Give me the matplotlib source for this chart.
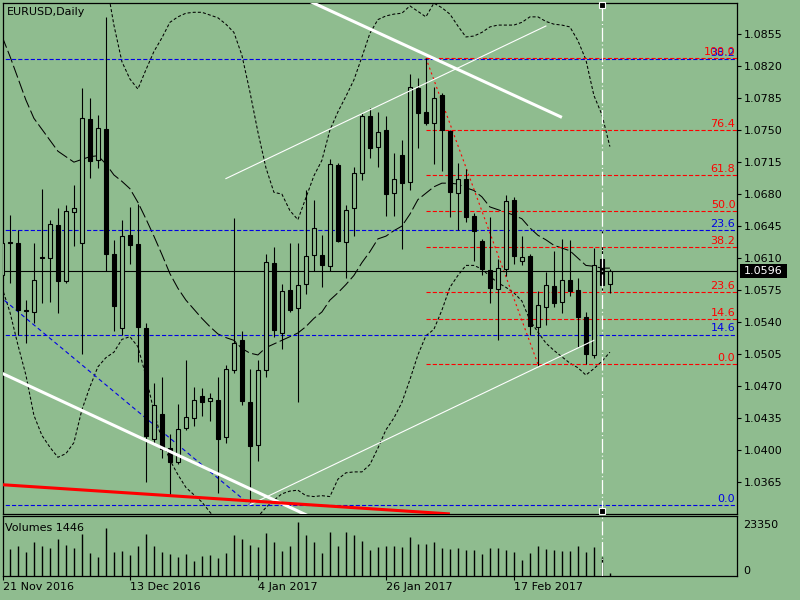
import matplotlib
matplotlib.use('Agg')
import matplotlib.pyplot as plt
import matplotlib.transforms as mtransforms
from matplotlib.patches import Rectangle
import numpy as np
import pandas as pd

plt.rcParams['font.family'] = ['DejaVu Sans']
plt.rcParams['font.size'] = 8
plt.rcParams['lines.scale_dashes'] = False

BG = '#8FBC8F'

# Step 1: values (EURUSD daily, 21 Nov 2016 - 7 Mar 2017)
first_day = '2016-11-21'
dates = pd.bdate_range(first_day, '2017-03-07')

opens = [1.0592, 1.0628, 1.0627, 1.0553, 1.0551, 1.0611, 1.0610, 1.0646, 1.0585, 1.0660,
         1.0627, 1.0762, 1.0717, 1.0751, 1.0615, 1.0533, 1.0635, 1.0625, 1.0534, 1.0412,
         1.0439, 1.0402, 1.0387, 1.0424, 1.0435, 1.0459, 1.0454, 1.0455, 1.0414, 1.0488,
         1.0520, 1.0453, 1.0405, 1.0488, 1.0605, 1.0528, 1.0575, 1.0555, 1.0582, 1.0613,
         1.0613, 1.0601, 1.0712, 1.0628, 1.0665, 1.0703, 1.0765, 1.0732, 1.0750, 1.0681,
         1.0723, 1.0693, 1.0796, 1.0770, 1.0758, 1.0789, 1.0749, 1.0681, 1.0697, 1.0656,
         1.0629, 1.0597, 1.0576, 1.0598, 1.0674, 1.0607, 1.0612, 1.0535, 1.0557, 1.0580,
         1.0562, 1.0586, 1.0575, 1.0545, 1.0504, 1.0609, 1.0582]
highs = [1.0662, 1.0657, 1.0641, 1.0564, 1.0626, 1.0686, 1.0652, 1.0665, 1.0668, 1.0690,
         1.0796, 1.0785, 1.0767, 1.0874, 1.0630, 1.0652, 1.0666, 1.0669, 1.0539, 1.0473,
         1.0480, 1.0418, 1.0450, 1.0499, 1.0469, 1.0468, 1.0462, 1.0480, 1.0493, 1.0654,
         1.0530, 1.0489, 1.0499, 1.0615, 1.0622, 1.0582, 1.0626, 1.0626, 1.0685, 1.0674,
         1.0635, 1.0718, 1.0714, 1.0668, 1.0710, 1.0769, 1.0774, 1.0770, 1.0766, 1.0725,
         1.0739, 1.0812, 1.0807, 1.0829, 1.0797, 1.0791, 1.0750, 1.0714, 1.0708, 1.0659,
         1.0631, 1.0655, 1.0609, 1.0679, 1.0677, 1.0634, 1.0615, 1.0574, 1.0595, 1.0618,
         1.0631, 1.0630, 1.0588, 1.0551, 1.0621, 1.0640, 1.0598]
lows = [1.0585, 1.0583, 1.0526, 1.0517, 1.0539, 1.0561, 1.0562, 1.0550, 1.0583, 1.0623,
        1.0505, 1.0698, 1.0709, 1.0596, 1.0530, 1.0526, 1.0603, 1.0496, 1.0365, 1.0407,
        1.0391, 1.0351, 1.0385, 1.0422, 1.0426, 1.0437, 1.0432, 1.0353, 1.0408, 1.0484,
        1.0449, 1.0343, 1.0388, 1.0480, 1.0524, 1.0510, 1.0551, 1.0453, 1.0571, 1.0596,
        1.0578, 1.0596, 1.0628, 1.0588, 1.0634, 1.0695, 1.0719, 1.0710, 1.0656, 1.0656,
        1.0620, 1.0684, 1.0730, 1.0756, 1.0713, 1.0705, 1.0655, 1.0641, 1.0650, 1.0607,
        1.0592, 1.0561, 1.0520, 1.0590, 1.0604, 1.0602, 1.0526, 1.0492, 1.0537, 1.0556,
        1.0550, 1.0569, 1.0513, 1.0494, 1.0501, 1.0575, 1.0572]
closes = [1.0627, 1.0626, 1.0553, 1.0552, 1.0586, 1.0610, 1.0647, 1.0585, 1.0662, 1.0665,
          1.0763, 1.0716, 1.0752, 1.0614, 1.0558, 1.0634, 1.0624, 1.0535, 1.0415, 1.0449,
          1.0401, 1.0387, 1.0423, 1.0436, 1.0455, 1.0453, 1.0457, 1.0412, 1.0489, 1.0517,
          1.0454, 1.0404, 1.0488, 1.0606, 1.0531, 1.0574, 1.0553, 1.0581, 1.0612, 1.0643,
          1.0602, 1.0713, 1.0629, 1.0663, 1.0703, 1.0766, 1.0730, 1.0748, 1.0680, 1.0697,
          1.0692, 1.0797, 1.0769, 1.0758, 1.0785, 1.0750, 1.0682, 1.0697, 1.0655, 1.0640,
          1.0598, 1.0577, 1.0599, 1.0673, 1.0612, 1.0611, 1.0536, 1.0559, 1.0581, 1.0561,
          1.0586, 1.0574, 1.0546, 1.0505, 1.0602, 1.0581, 1.0596]
volumes = [12000, 12126, 13473, 10778, 15269, 13473, 12575, 16617, 13922, 12575, 18862,
           10329, 8533, 21557, 10778, 11228, 9431, 13473, 18862, 13473, 10778,
           9880, 8533, 9880, 6737, 8982, 9431, 8084, 10329, 18413, 16617,
           13922, 13024, 19311, 15269, 11228, 13473, 24251, 18413, 15269, 10329,
           19760, 13473, 19760, 18413, 15719, 11677, 13024, 13473, 13473, 13024,
           17515, 14371, 14371, 15269, 12575, 12126, 12575, 11677, 11677, 9880,
           12575, 12575, 11677, 10778, 7186, 10329, 13473, 12126, 11677, 11228,
           11228, 13473, 10778, 13024, 8533, 1446]

# bands: upper starts on 7 Dec 2016, the other two cover every bar
upper_from = '2016-12-07'
band_upper = [1.0950, 1.0915, 1.0865, 1.0825, 1.0806, 1.0795, 1.0816, 1.0836, 1.0851, 1.0868,
              1.0874, 1.0878, 1.0879, 1.0879, 1.0876, 1.0873, 1.0866, 1.0857, 1.0832, 1.0792,
              1.0748, 1.0709, 1.0682, 1.0680, 1.0662, 1.0652, 1.0676, 1.0700, 1.0717, 1.0750,
              1.0770, 1.0787, 1.0805, 1.0830, 1.0856, 1.0871, 1.0875, 1.0877, 1.0878, 1.0886,
              1.0880, 1.0874, 1.0889, 1.0884, 1.0877, 1.0864, 1.0852, 1.0853, 1.0857, 1.0863,
              1.0865, 1.0865, 1.0865, 1.0868, 1.0874, 1.0874, 1.0869, 1.0866, 1.0865, 1.0863,
              1.0848, 1.0827, 1.0788, 1.0767, 1.0732]
band_middle = [1.0853,
               1.0831, 1.0807, 1.0783, 1.0763, 1.0751, 1.0739, 1.0727, 1.0721, 1.0715, 1.0718,
               1.0721, 1.0722, 1.0713, 1.0701, 1.0694, 1.0686, 1.0671, 1.0653, 1.0634, 1.0614,
               1.0593, 1.0577, 1.0564, 1.0554, 1.0544, 1.0535, 1.0527, 1.0523, 1.0520, 1.0511,
               1.0506, 1.0504, 1.0512, 1.0516, 1.0520, 1.0524, 1.0528, 1.0535, 1.0544, 1.0551,
               1.0564, 1.0572, 1.0581, 1.0591, 1.0605, 1.0617, 1.0631, 1.0634, 1.0640, 1.0645,
               1.0658, 1.0674, 1.0681, 1.0688, 1.0692, 1.0692, 1.0691, 1.0687, 1.0684, 1.0677,
               1.0666, 1.0663, 1.0660, 1.0657, 1.0653, 1.0643, 1.0635, 1.0630, 1.0624, 1.0621,
               1.0618, 1.0610, 1.0602, 1.0601, 1.0599, 1.0599]
band_lower = [1.0578,
              1.0551, 1.0515, 1.0482, 1.0438, 1.0416, 1.0403, 1.0392, 1.0396, 1.0408, 1.0444,
              1.0469, 1.0491, 1.0501, 1.0507, 1.0521, 1.0524, 1.0513, 1.0481, 1.0442, 1.0411,
              1.0389, 1.0373, 1.0359, 1.0351, 1.0343, 1.0332, 1.0322, 1.0315, 1.0315, 1.0318,
              1.0324, 1.0327, 1.0337, 1.0345, 1.0352, 1.0355, 1.0356, 1.0350, 1.0349, 1.0350,
              1.0349, 1.0368, 1.0375, 1.0376, 1.0376, 1.0384, 1.0402, 1.0422, 1.0435, 1.0452,
              1.0477, 1.0504, 1.0525, 1.0532, 1.0553, 1.0578, 1.0591, 1.0602, 1.0602, 1.0598,
              1.0590, 1.0583, 1.0578, 1.0572, 1.0563, 1.0542, 1.0529, 1.0517, 1.0509, 1.0502,
              1.0495, 1.0490, 1.0482, 1.0489, 1.0497, 1.0507]

# objects on the chart: (day1, price1, day2, price2)
white_thick = [('2017-01-12', 1.0893, '2017-02-27', 1.0764),
               ('2016-11-21', 1.0484, '2017-01-13', 1.0325)]
white_thin = [('2016-12-29', 1.0697, '2017-02-23', 1.0864),
              ('2017-01-03', 1.0340, '2017-03-03', 1.0520)]
red_line = ('2016-11-21', 1.0362, '2017-02-07', 1.0330)
vline_day = '2017-03-06'

fib_levels = [0.0, 14.6, 23.6, 38.2, 50.0, 61.8, 76.4, 100.0]
red_fib = ('2017-02-02', 1.0829, '2017-02-22', 1.0494)   # high, low
blue_fib = ('2016-05-03', 1.1616, '2017-01-03', 1.0340)  # high, low

last_price = 1.0596
price_ticks = [1.0365, 1.0400, 1.0435, 1.0470, 1.0505, 1.0540, 1.0575, 1.0610,
               1.0645, 1.0680, 1.0715, 1.0750, 1.0785, 1.0820, 1.0855]
volume_ticks = [0, 23350]
label_days = ['2016-11-21', '2016-12-13', '2017-01-04', '2017-01-26', '2017-02-17']


def pos(day):
    return int(np.busday_count(np.datetime64(first_day), np.datetime64(day)))


# Step 2: layout like the terminal window
W, H = 800, 600
XLO, XHI = 0.1, 91.925
YLO, YHI = 1.03296, 1.08895
fig = plt.figure(figsize=(8, 6), dpi=100, facecolor=BG)
ax = fig.add_axes([2.7 / W, 1 - 514.3 / H, 734.6 / W, 511.6 / H], facecolor=BG)
axv = fig.add_axes([2.7 / W, 1 - 576 / H, 734.6 / W, 59.7 / H], facecolor=BG)

for a in (ax, axv):
    a.set_xlim(XLO, XHI)
    for s in a.spines.values():
        s.set_color('black')
        s.set_linewidth(0.9)
ax.set_ylim(YLO, YHI)
axv.set_ylim(0, 26800)

x = np.arange(len(dates))

# candles
for i in x:
    o, h, l, c = opens[i], highs[i], lows[i], closes[i]
    ax.vlines(i, l, h, color='black', lw=0.8, zorder=3)
    fill = BG if c >= o else 'black'
    ax.add_patch(Rectangle((i - 0.25, min(o, c)), 0.5, abs(c - o),
                           facecolor=fill, edgecolor='black', lw=0.8, zorder=3.5))

# bands
xu = np.arange(pos(upper_from), pos(upper_from) + len(band_upper))
ax.plot(xu, band_upper, color='black', lw=0.75, ls=(0, (2.2, 1.5)), zorder=2)
ax.plot(x, band_lower, color='black', lw=0.75, ls=(0, (2.2, 1.5)), zorder=2)
ax.plot(x, band_middle, color='black', lw=0.75, ls=(0, (9, 2.5)), zorder=2)

# fibonacci objects
lab_tr = mtransforms.blended_transform_factory(ax.transAxes, ax.transData)
for (d1, hi, d2, lo), col, lab_z in ((blue_fib, '#0000E6', 5), (red_fib, '#FF0000', 6)):
    for lv in fib_levels:
        p = lo + (hi - lo) * lv / 100.0
        if not (YLO < p < YHI):
            continue
        ax.hlines(p, pos(d1), XHI, colors=col, lw=0.8, linestyles=[(0, (3, 1.5))], zorder=2.2)
        ax.text(0.9973, p + 0.00012, '%.1f' % lv, transform=lab_tr, ha='right', va='bottom',
                color=col, fontsize=8, zorder=lab_z)
    ax.plot([pos(d1), pos(d2)], [hi, lo], color=col, lw=0.8,
            ls=(0, (1.5, 2.2) if col == '#FF0000' else (3, 2.2)), zorder=2.3)

# trend lines
for d1, p1, d2, p2 in white_thick:
    ax.plot([pos(d1), pos(d2)], [p1, p2], color='white', lw=2.2, solid_capstyle='butt', zorder=4)
for d1, p1, d2, p2 in white_thin:
    ax.plot([pos(d1), pos(d2)], [p1, p2], color='white', lw=0.8, zorder=4)
d1, p1, d2, p2 = red_line
ax.plot([pos(d1), pos(d2)], [p1, p2], color='#FF0000', lw=2.2, solid_capstyle='butt', zorder=4)

# current price line and its box on the scale
ax.axhline(last_price, color='black', lw=0.8, zorder=2.5)
ph = 14 / 9137.0
ax.add_patch(Rectangle((1.0037, last_price - ph / 2), 0.0636, ph, transform=lab_tr,
                       facecolor='black', edgecolor='none', clip_on=False, zorder=6))
ax.text(1.0354, last_price, '%.4f' % last_price, transform=lab_tr, ha='center', va='center',
        color='white', fontsize=8, zorder=7, clip_on=False)

# vertical dashed line with its selection points
vx = pos(vline_day)
for a in (ax, axv):
    a.axvline(vx, color='white', lw=0.9, ls=(0, (10, 2, 0.8, 2)), zorder=5)
vtr = mtransforms.blended_transform_factory(ax.transData, ax.transAxes)
ax.plot([vx, vx], [0.9949, 0.0059], ls='none', marker='s', ms=4, mfc='black', mec='white',
        mew=0.8, transform=vtr, clip_on=False, zorder=8)

# price scale
ax.yaxis.tick_right()
ax.set_yticks(price_ticks)
ax.set_yticklabels(['%.4f' % t for t in price_ticks])
ax.tick_params(axis='y', direction='out', length=3, width=0.8, pad=1.5, labelsize=8, colors='black')
ax.set_xticks([])
ax.text(0.0063, 0.9824, 'EURUSD,Daily', transform=ax.transAxes, ha='left', va='center', fontsize=8)

# volumes
axv.vlines(x, 0, volumes, color='black', lw=1.0, zorder=3)
axv.yaxis.tick_right()
axv.set_yticks(volume_ticks)
axv.set_yticklabels([str(t) for t in volume_ticks])
axv.tick_params(axis='y', length=0, pad=4, labelsize=8)
axv.get_yticklabels()[0].set_va('bottom')
axv.text(0.003, 0.81, 'Volumes %d' % volumes[-1], transform=axv.transAxes, ha='left',
         va='center', fontsize=8)

axv.set_xticks([max(pos(d), XLO) for d in label_days])
axv.set_xticklabels([pd.Timestamp(d).strftime('%d %b %Y').lstrip('0') for d in label_days])
axv.tick_params(axis='x', direction='out', length=3, width=0.8, pad=1, labelsize=8)
for lab in axv.get_xticklabels():
    lab.set_ha('left')

fig.savefig('out.png', dpi=100, facecolor=BG)
